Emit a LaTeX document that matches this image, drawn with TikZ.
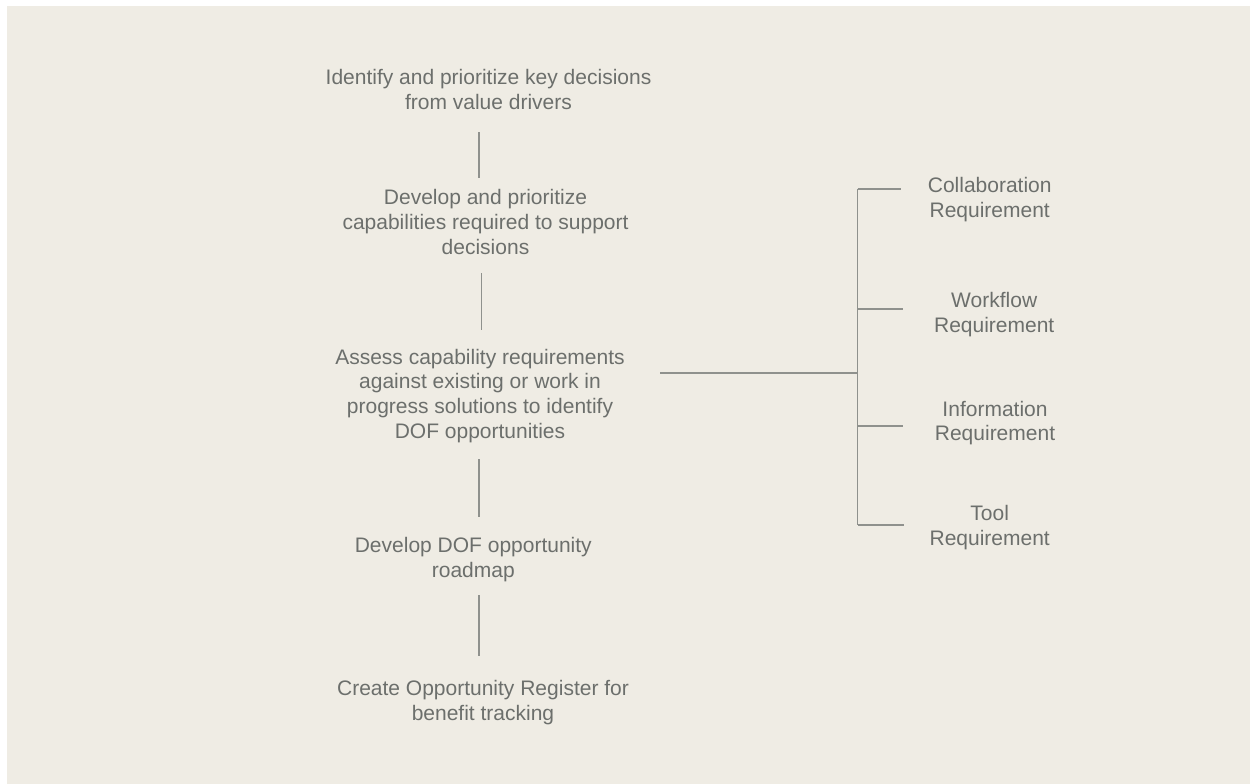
\documentclass[tikz,border=0pt]{standalone}
\usepackage{fontspec}
\setmainfont{Liberation Sans}
\usetikzlibrary{calc}
\definecolor{bgc}{HTML}{EFECE4}
\definecolor{txtc}{HTML}{6C6F6C}
\definecolor{linec}{HTML}{8F918D}
\tikzset{
  txt/.style={anchor=north, align=center, inner sep=0pt, text=txtc,
    font=\fontsize{21}{24.7}\selectfont,
    execute at begin node=\strut, execute at end node=\strut},
  conn/.style={draw=linec, line width=1.3pt}
}
\begin{document}
\begin{tikzpicture}[x=1pt,y=-1pt]
\useasboundingbox (0,0) rectangle (1250,784);
\fill[white] (0,0) rectangle (1250,784);
\fill[bgc] (7,6) rectangle (1250,784);

% main column
\node[txt] (t1) at (488.5,69.55) {Identify and prioritize key decisions\\from value drivers};
\node[txt] (t2) at (485.5,189.55) {Develop and prioritize\\capabilities required to support\\decisions};
\node[txt] (t3) at (480,348.85) {Assess capability requirements\\against existing or work in\\progress solutions to identify\\DOF opportunities};
\node[txt] (t4) at (473.3,537.25) {Develop DOF opportunity\\roadmap};
\node[txt] (t5) at (483,680.55) {Create Opportunity Register for\\benefit tracking};

% right labels
\node[txt] (r1) at (989.7,177.25) {Collaboration\\Requirement};
\node[txt] (r2) at (994.2,292.25) {Workflow\\Requirement};
\node[txt] (r3) at (995,400.85) {Information\\Requirement};
\node[txt] (r4) at (989.7,505.55) {Tool\\Requirement};

% spines
\coordinate (sp) at (479,0);
\coordinate (spb) at (481.5,0);
\draw[conn] ($(t1.south -| sp)+(0,15.2)$) -- ($(t2.north -| sp)+(0,-11.55)$);
\draw[conn] ($(t2.south -| spb)+(0,11.5)$) -- ($(t3.north -| spb)+(0,-18.85)$);
\draw[conn] ($(t3.south -| sp)+(0,13.5)$) -- ($(t4.north -| sp)+(0,-20.55)$);
\draw[conn] ($(t4.south -| sp)+(0,10.5)$) -- ($(t5.north -| sp)+(0,-24.55)$);

% bracket
\coordinate (jn) at (857.7,373);
\coordinate (b1) at (857.7,189);
\coordinate (b2) at (857.7,309);
\coordinate (b3) at (857.7,426);
\coordinate (b4) at (857.7,525);
\draw[conn] ($(t3.east |- jn)+(35.35,0)$) -- (jn);
\draw[conn] (b1) -- (b4);
\draw[conn] (b1) -- ++(43.5,0);
\draw[conn] (b2) -- ++(45,0);
\draw[conn] (b3) -- ++(45.5,0);
\draw[conn] (b4) -- ++(46,0);
\end{tikzpicture}
\end{document}
